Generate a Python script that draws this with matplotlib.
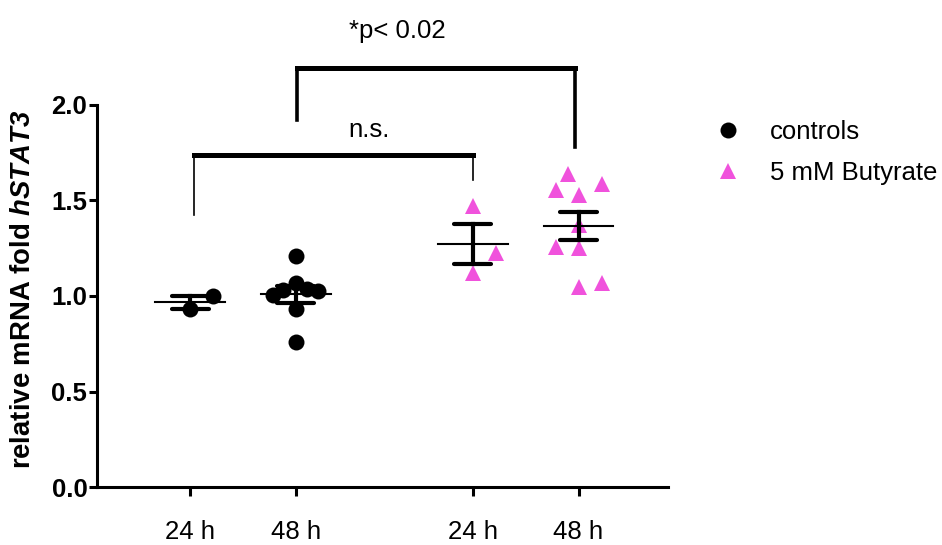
import matplotlib
matplotlib.use('Agg')
import matplotlib.pyplot as plt
from matplotlib.lines import Line2D
import numpy as np

plt.rcParams['font.family'] = ['Liberation Sans', 'DejaVu Sans']
plt.rcParams['mathtext.fontset'] = 'custom'
plt.rcParams['mathtext.bfit'] = 'Liberation Sans:bold:italic'
plt.rcParams['mathtext.bf'] = 'Liberation Sans:bold'

# data
tick_labels = ['24 h', '48 h', '24 h', '48 h']
positions = [0, 1, 2.675, 3.675]

ctrl_24 = [0.932, 1.000]
ctrl_24_dx = [0.0, 0.215]
ctrl_48 = [1.211, 1.005, 1.031, 1.066, 1.035, 1.026, 0.930, 0.761]
ctrl_48_dx = [0.0, -0.22, -0.117, 0.0, 0.104, 0.214, 0.0, 0.0]
but_24 = [1.473, 1.227, 1.119]
but_24_dx = [0.0, 0.22, 0.0]
but_48 = [1.639, 1.555, 1.586, 1.529, 1.372, 1.258, 1.250, 1.049, 1.070]
but_48_dx = [-0.10, -0.21, 0.22, 0.0, 0.0, -0.21, 0.0, 0.0, 0.22]

pink = '#F052DC'
fs = 18.5

fig = plt.figure(figsize=(9.42, 5.45), dpi=100)
ax = fig.add_axes([0.103, 0.1064, 0.606, 0.7010])

groups = [(ctrl_24, ctrl_24_dx, 'o', 'black'),
          (ctrl_48, ctrl_48_dx, 'o', 'black'),
          (but_24, but_24_dx, '^', pink),
          (but_48, but_48_dx, '^', pink)]

for pos, (vals, dx, mk, col) in zip(positions, groups):
    vals = np.array(vals)
    xs = pos + np.array(dx)
    ax.plot(xs, vals, linestyle='none', marker=mk, color=col, markersize=11.5,
            markeredgewidth=0, zorder=3, clip_on=False)
    m = vals.mean()
    sem = vals.std(ddof=1) / np.sqrt(len(vals))
    ax.plot([pos - 0.33, pos + 0.33], [m, m], color='black', lw=1.5, zorder=4)
    ax.plot([pos, pos], [m - sem, m + sem], color='black', lw=3, zorder=4)
    for yy in (m - sem, m + sem):
        ax.plot([pos - 0.175, pos + 0.175], [yy, yy], color='black', lw=3,
                solid_capstyle='round', zorder=4)

# significance brackets
ax.plot([0.04, 0.04], [1.424, 1.738], color='black', lw=1.2, clip_on=False)
ax.plot([2.68, 2.68], [1.607, 1.738], color='black', lw=1.2, clip_on=False)
ax.plot([0.04, 2.68], [1.738, 1.738], color='black', lw=3.6, clip_on=False)
ax.text(1.69, 1.869, 'n.s.', ha='center', va='center', fontsize=fs)

ax.plot([1.01, 1.01], [1.921, 2.196], color='black', lw=2.6, clip_on=False)
ax.plot([3.64, 3.64], [1.782, 2.196], color='black', lw=2.6, clip_on=False)
ax.plot([1.01, 3.64], [2.196, 2.196], color='black', lw=3.6, clip_on=False,
        solid_capstyle='projecting')
ax.text(1.96, 2.385, '*p< 0.02', ha='center', va='center', fontsize=fs, clip_on=False)

ax.set_xlim(-0.88, 4.52)
ax.set_ylim(0, 2.0)
ax.set_yticks([0, 0.5, 1.0, 1.5, 2.0])
ax.set_yticklabels(['0.0', '0.5', '1.0', '1.5', '2.0'], fontweight='bold')
ax.set_xticks(positions)
ax.set_xticklabels(tick_labels)
ax.tick_params(axis='y', labelsize=fs, length=6, width=2.2, pad=1)
ax.tick_params(axis='x', labelsize=fs, length=6.5, width=2.2, pad=17)
for s in ('top', 'right'):
    ax.spines[s].set_visible(False)
for s in ('left', 'bottom'):
    ax.spines[s].set_linewidth(2.2)

ax.set_ylabel(r'relative mRNA fold $\mathbfit{hSTAT3}$', fontsize=19.8, fontweight='bold')
ax.yaxis.set_label_coords(-0.107, 0.518)

handles = [Line2D([], [], linestyle='none', marker='o', color='black', markersize=11.5, markeredgewidth=0),
           Line2D([], [], linestyle='none', marker='^', color=pink, markersize=11.5, markeredgewidth=0)]
fig.legend(handles, ['controls', '5 mM Butyrate'], loc='upper left',
           bbox_to_anchor=(0.759, 0.78), frameon=False, fontsize=fs,
           handlelength=1.0, handletextpad=1.13, borderpad=0, borderaxespad=0,
           labelspacing=0.65)

fig.savefig('out.png', dpi=100)
